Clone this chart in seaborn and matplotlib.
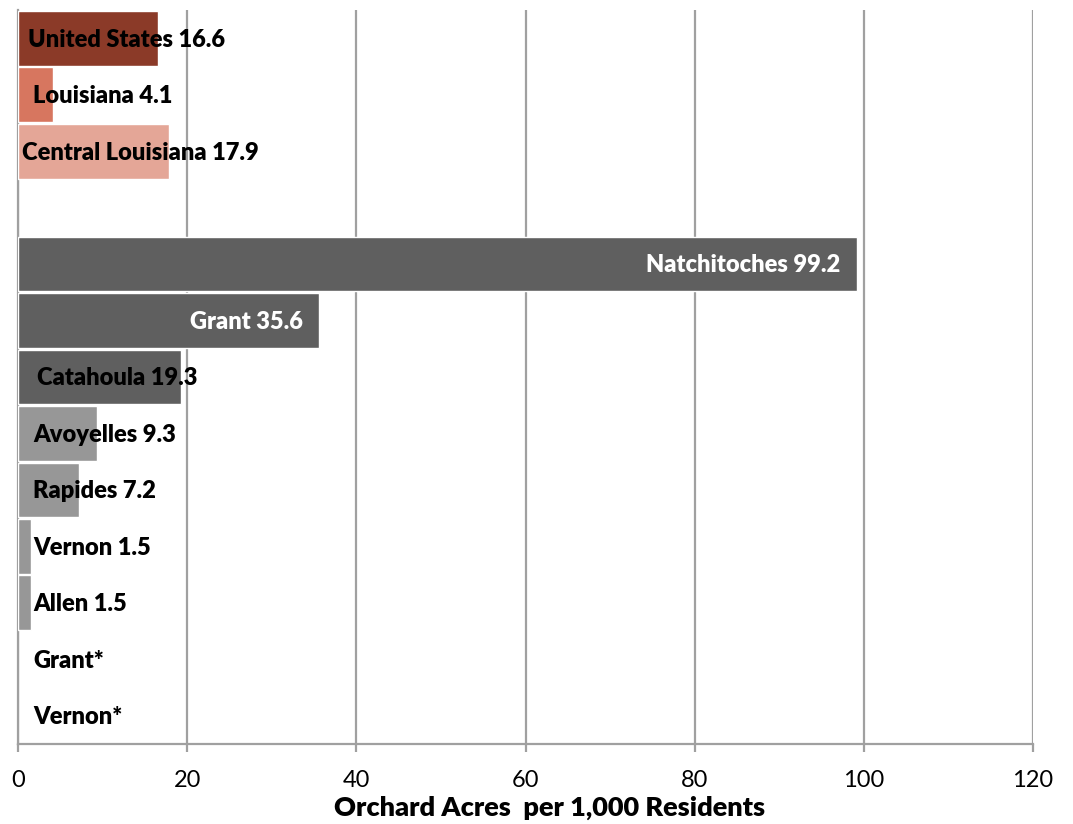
import numpy as np
import pandas as pd
import seaborn as sns
import matplotlib.pyplot as plt

# rows from top to bottom, the blank row is the gap in the chart
areas = ['United States', 'Louisiana', 'Central Louisiana', '',
         'Natchitoches', 'Grant', 'Catahoula', 'Avoyelles', 'Rapides',
         'Vernon', 'Allen', 'Grant*', 'Vernon*']
acres = [16.6, 4.1, 17.9, np.nan,
         99.2, 35.6, 19.3, 9.3, 7.2,
         1.5, 1.5, np.nan, np.nan]
xticks = [0, 20, 40, 60, 80, 100, 120]

# style only
bar_colors = ['#8B3A28', '#D7765F', '#E4A697', '#FFFFFF',
              '#5F5F5F', '#5F5F5F', '#5F5F5F', '#979797', '#979797',
              '#979797', '#979797', '#979797', '#979797']
label_inside = [False, False, False, False, True, True,
                False, False, False, False, False, False, False]
label_pad = [7, 11, 3, 0, 0, 0, 14, 11, 11, 11, 11, 11, 11]  # points from axis

sns.set_theme(style='white')
plt.rcParams['font.family'] = ['Lato', 'DejaVu Sans']

df = pd.DataFrame({'area': [a if a else ' ' for a in areas], 'acres': acres})

fig = plt.figure(figsize=(10.73, 8.24), dpi=100)
ax = fig.add_axes([0.0168, 0.0971, 0.9459, 0.8908])

sns.barplot(data=df, x='acres', y='area', hue='area', palette=bar_colors,
            legend=False, width=0.97, saturation=1, ax=ax, zorder=3)

ax.set_xlim(0, 120)
ax.set_ylim(len(areas) - 0.5, -0.5)
ax.set_xticks(xticks)
ax.set_xticklabels([str(t) for t in xticks], fontsize=17, color='black')
ax.set_yticks([])
ax.set_ylabel('')
ax.set_xlabel('Orchard Acres  per 1,000 Residents', fontsize=19.5,
              fontweight='heavy', color='black')
ax.xaxis.set_label_coords(0.524, -0.071)
ax.grid(axis='x', color='#A0A0A0', linewidth=1.6, zorder=0)
ax.set_axisbelow(True)
for s in ['top', 'right']:
    ax.spines[s].set_visible(False)
for s in ['left', 'bottom']:
    ax.spines[s].set_color('#A0A0A0')
    ax.spines[s].set_linewidth(1.6)
ax.tick_params(axis='x', bottom=True, length=6, width=1.6, color='#A0A0A0',
               pad=13)

for i, (name, v) in enumerate(zip(areas, acres)):
    if not name:
        continue
    txt = name if np.isnan(v) else f'{name} {v}'
    if label_inside[i]:
        ax.annotate(txt, (v, i), xytext=(-12, -1), textcoords='offset points',
                    ha='right', va='center', color='white', fontsize=17,
                    fontweight='heavy', zorder=5)
    else:
        ax.annotate(txt, (0, i), xytext=(label_pad[i], -1),
                    textcoords='offset points', ha='left', va='center',
                    color='black', fontsize=17, fontweight='heavy', zorder=5)

fig.savefig('out.png', dpi=100, facecolor='white')
